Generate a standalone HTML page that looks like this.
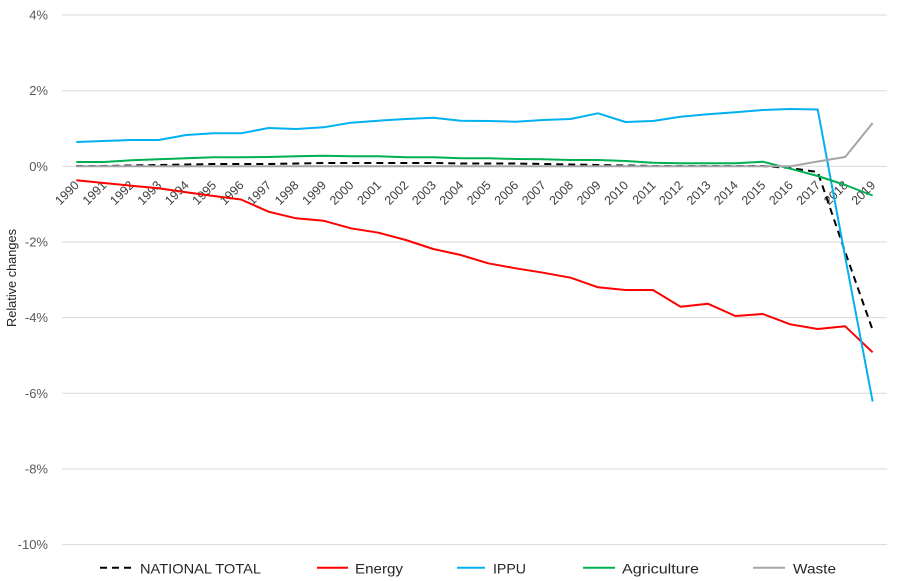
<!DOCTYPE html>
<html><head><meta charset="utf-8"><style>
html,body{margin:0;padding:0;background:#fff;}
svg{display:block;}
text{font-family:"Liberation Sans",Arial,sans-serif;}
</style></head><body>
<svg width="900" height="581" viewBox="0 0 900 581" xmlns="http://www.w3.org/2000/svg">
<rect width="900" height="581" fill="#fff"/>
<g stroke="#d9d9d9" stroke-width="1">
<line x1="62" y1="15" x2="887" y2="15"/>
<line x1="62" y1="90.7" x2="887" y2="90.7"/>
<line x1="62" y1="166.3" x2="887" y2="166.3"/>
<line x1="62" y1="242" x2="887" y2="242"/>
<line x1="62" y1="317.6" x2="887" y2="317.6"/>
<line x1="62" y1="393.3" x2="887" y2="393.3"/>
<line x1="62" y1="469" x2="887" y2="469"/>
<line x1="62" y1="544.6" x2="887" y2="544.6"/>
</g>
<g font-size="13" fill="#595959" text-anchor="end">
<text x="48" y="19.5">4%</text>
<text x="48" y="95.2">2%</text>
<text x="48" y="170.8">0%</text>
<text x="48" y="246.5">-2%</text>
<text x="48" y="322.1">-4%</text>
<text x="48" y="397.8">-6%</text>
<text x="48" y="473.5">-8%</text>
<text x="48" y="549.1">-10%</text>
</g>
<text transform="translate(16,278) rotate(-90)" text-anchor="middle" font-size="12.5" fill="#262626" textLength="98" lengthAdjust="spacingAndGlyphs">Relative changes</text>
<g font-size="12.5" fill="#404040" text-anchor="end">
<text transform="translate(79.8,186) rotate(-45)">1990</text>
<text transform="translate(107.26,186) rotate(-45)">1991</text>
<text transform="translate(134.72,186) rotate(-45)">1992</text>
<text transform="translate(162.18,186) rotate(-45)">1993</text>
<text transform="translate(189.64,186) rotate(-45)">1994</text>
<text transform="translate(217.1,186) rotate(-45)">1995</text>
<text transform="translate(244.56,186) rotate(-45)">1996</text>
<text transform="translate(272.02,186) rotate(-45)">1997</text>
<text transform="translate(299.48,186) rotate(-45)">1998</text>
<text transform="translate(326.94,186) rotate(-45)">1999</text>
<text transform="translate(354.4,186) rotate(-45)">2000</text>
<text transform="translate(381.86,186) rotate(-45)">2001</text>
<text transform="translate(409.32,186) rotate(-45)">2002</text>
<text transform="translate(436.78,186) rotate(-45)">2003</text>
<text transform="translate(464.24,186) rotate(-45)">2004</text>
<text transform="translate(491.7,186) rotate(-45)">2005</text>
<text transform="translate(519.16,186) rotate(-45)">2006</text>
<text transform="translate(546.62,186) rotate(-45)">2007</text>
<text transform="translate(574.08,186) rotate(-45)">2008</text>
<text transform="translate(601.54,186) rotate(-45)">2009</text>
<text transform="translate(629,186) rotate(-45)">2010</text>
<text transform="translate(656.46,186) rotate(-45)">2011</text>
<text transform="translate(683.92,186) rotate(-45)">2012</text>
<text transform="translate(711.38,186) rotate(-45)">2013</text>
<text transform="translate(738.84,186) rotate(-45)">2014</text>
<text transform="translate(766.3,186) rotate(-45)">2015</text>
<text transform="translate(793.76,186) rotate(-45)">2016</text>
<text transform="translate(821.22,186) rotate(-45)">2017</text>
<text transform="translate(848.68,186) rotate(-45)">2018</text>
<text transform="translate(876.14,186) rotate(-45)">2019</text>
</g>
<g fill="none" stroke-width="2" stroke-linejoin="round">
<polyline stroke="#000" stroke-dasharray="7,5" points="76.3,166 103.76,166 131.22,165.5 158.68,165 186.14,164.5 213.6,164 241.06,164 268.52,164 295.98,163.5 323.44,163 350.9,163 378.36,163 405.82,163 433.28,163 460.74,163.5 488.2,163.5 515.66,163.5 543.12,164 570.58,164.5 598.04,165 625.5,165.5 652.96,166 680.42,166 707.88,166 735.34,166 762.8,166 790.26,168 817.72,172 845.18,252 872.64,330"/>
<polyline stroke="#ff0000" points="76.3,180.3 103.76,183 131.22,185.7 158.68,188.3 186.14,192.3 213.6,196 241.06,199.5 268.52,211.7 295.98,218.3 323.44,220.7 350.9,228.3 378.36,232.7 405.82,240 433.28,249 460.74,255 488.2,263.3 515.66,268.3 543.12,272.7 570.58,277.7 598.04,287.3 625.5,290 652.96,290 680.42,306.7 707.88,303.7 735.34,316 762.8,314 790.26,324.3 817.72,329 845.18,326.3 872.64,352.3"/>
<polyline stroke="#00b0f0" points="76.3,142 103.76,141 131.22,140 158.68,140 186.14,135 213.6,133.3 241.06,133.3 268.52,128 295.98,129 323.44,127.3 350.9,122.7 378.36,120.7 405.82,119 433.28,117.7 460.74,120.7 488.2,121 515.66,121.7 543.12,120 570.58,119 598.04,113.3 625.5,122 652.96,121 680.42,116.7 707.88,114.3 735.34,112.3 762.8,110 790.26,109 817.72,109.5 845.18,257 872.64,401.5"/>
<polyline stroke="#00b050" points="76.3,162 103.76,162 131.22,160.3 158.68,159.3 186.14,158.3 213.6,157.3 241.06,157.3 268.52,157 295.98,156.3 323.44,155.7 350.9,156.3 378.36,156.3 405.82,157.3 433.28,157.3 460.74,158.3 488.2,158.3 515.66,159 543.12,159.3 570.58,160 598.04,160 625.5,161 652.96,162.7 680.42,163.3 707.88,163.3 735.34,163.3 762.8,161.7 790.26,168.7 817.72,176 845.18,185 872.64,195.5"/>
<polyline stroke="#a5a5a5" points="76.3,166.3 790.26,166.3 817.72,161.5 845.18,157 872.64,123"/>
</g>
<g stroke-width="2">
<line x1="100" y1="567.7" x2="133" y2="567.7" stroke="#000" stroke-dasharray="7,5"/>
<line x1="317" y1="567.7" x2="348" y2="567.7" stroke="#ff0000"/>
<line x1="457" y1="567.7" x2="485" y2="567.7" stroke="#00b0f0"/>
<line x1="583" y1="567.7" x2="615" y2="567.7" stroke="#00b050"/>
<line x1="753" y1="567.7" x2="785" y2="567.7" stroke="#a5a5a5"/>
</g>
<g font-size="14" fill="#262626">
<text x="140" y="573.5" textLength="121" lengthAdjust="spacingAndGlyphs">NATIONAL TOTAL</text>
<text x="355" y="573.5" textLength="48" lengthAdjust="spacingAndGlyphs">Energy</text>
<text x="493" y="573.5" textLength="33" lengthAdjust="spacingAndGlyphs">IPPU</text>
<text x="622" y="573.5" textLength="77" lengthAdjust="spacingAndGlyphs">Agriculture</text>
<text x="793" y="573.5" textLength="43" lengthAdjust="spacingAndGlyphs">Waste</text>
</g>
</svg>
</body></html>
